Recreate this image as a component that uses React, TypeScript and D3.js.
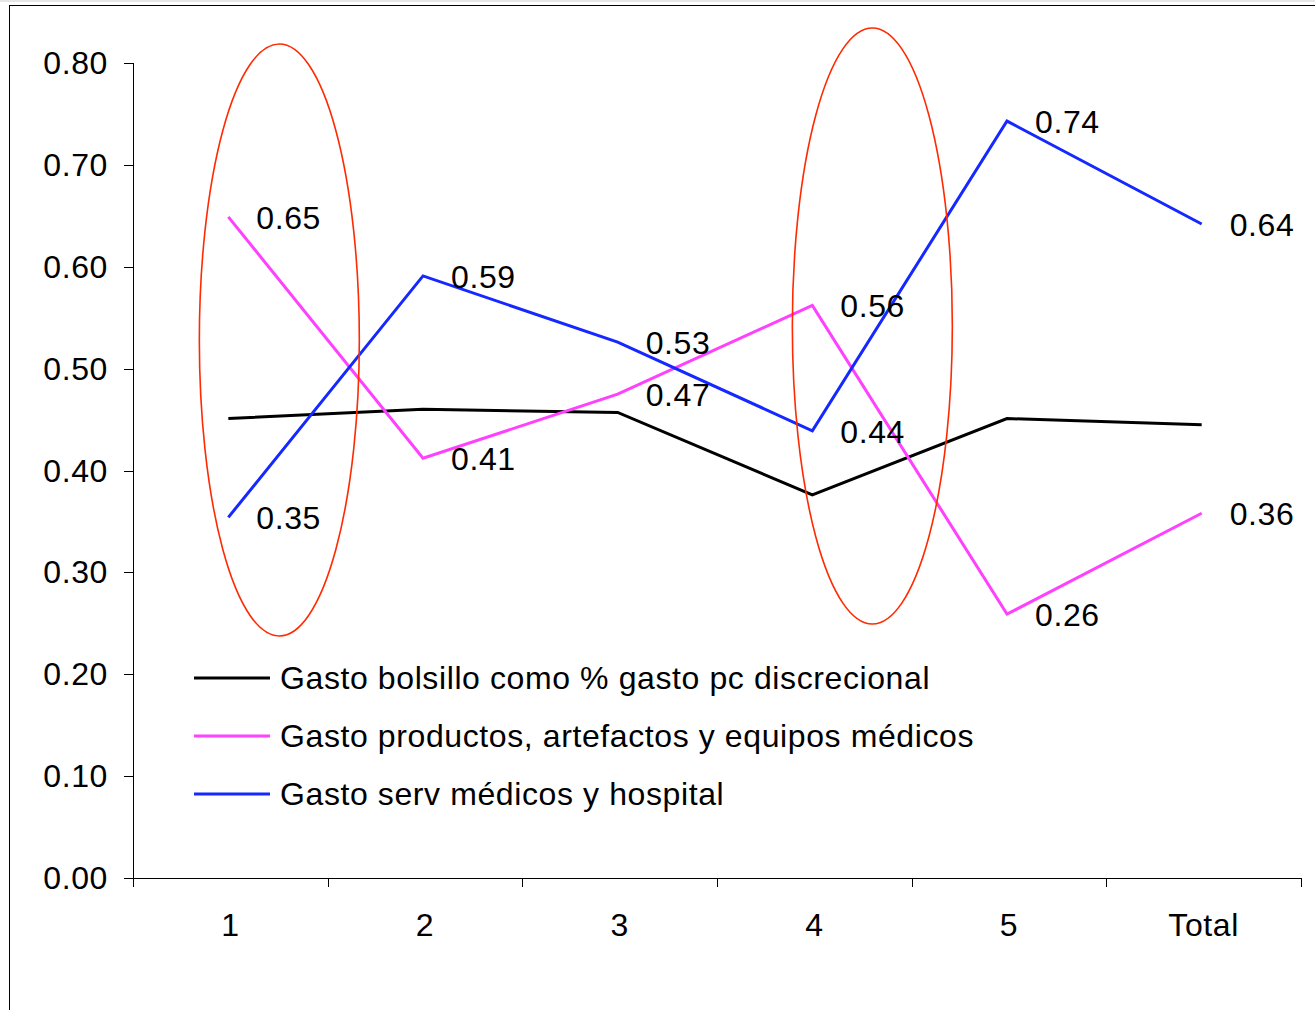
import React from "react";
import * as d3 from "d3";

const categories = ["1", "2", "3", "4", "5", "Total"];
const seriesNames = [
  "Gasto bolsillo como % gasto pc discrecional",
  "Gasto productos, artefactos y equipos médicos",
  "Gasto serv médicos y hospital",
];
const bolsillo = [0.451, 0.46, 0.457, 0.376, 0.451, 0.445];
const productos = [0.649, 0.412, 0.475, 0.562, 0.259, 0.358];
const servicios = [0.354, 0.591, 0.526, 0.439, 0.743, 0.642];
const seriesColors = ["#000000", "#ff40ff", "#1428ff"];
const yTicks = [0, 0.1, 0.2, 0.3, 0.4, 0.5, 0.6, 0.7, 0.8];
const productosLabels = ["0.65", "0.41", "0.47", "0.56", "0.26", "0.36"];
const serviciosLabels = ["0.35", "0.59", "0.53", "0.44", "0.74", "0.64"];
const highlightedCategories = ["1", "4"];

const W = 1315;
const H = 1010;
const FONT = "Liberation Sans, Arial, sans-serif";
const FS = 32;
const LS = 0.6;

export default function App() {
  const x0 = 133, x1 = 1301, yTop = 63, yBot = 878;
  const xBand = d3.scaleBand<string>().domain(categories).range([x0, x1]);
  const x = (c: string) => (xBand(c) as number) + xBand.bandwidth() / 2 - 2;
  const y = d3.scaleLinear().domain([0, 0.8]).range([yBot, yTop]);
  const line = d3
    .line<number>()
    .x((_, i) => x(categories[i]))
    .y((d) => y(d));
  const allSeries = [bolsillo, productos, servicios];
  const boundaries = categories.map((c) => xBand(c) as number).concat([x1]);

  return (
    <svg width={W} height={H} style={{ position: "absolute", left: 0, top: 0 }} fontFamily={FONT} fontSize={FS} letterSpacing={LS}>
      <rect x={0} y={0} width={W} height={H} fill="#fff" />
      <line x1={0} y1={1} x2={W} y2={1} stroke="#ccc" strokeWidth={1} />
      <line x1={9} y1={5.5} x2={W} y2={5.5} stroke="#000" strokeWidth={1} />
      <line x1={9.5} y1={5} x2={9.5} y2={H} stroke="#000" strokeWidth={1} />
      {/* y axis */}
      <line x1={x0 + 0.5} y1={yTop} x2={x0 + 0.5} y2={yBot + 8} stroke="#000" strokeWidth={1} />
      {yTicks.map((t) => (
        <g key={t}>
          <line x1={124} x2={x0} y1={Math.round(y(t)) + 0.5} y2={Math.round(y(t)) + 0.5} stroke="#000" />
          <text x={108} y={y(t)} textAnchor="end" dominantBaseline="central">
            {t.toFixed(2)}
          </text>
        </g>
      ))}
      {/* x axis */}
      <line x1={x0} y1={yBot + 0.5} x2={x1} y2={yBot + 0.5} stroke="#000" />
      {boundaries.map((b, i) => (
        <line key={i} x1={Math.round(b) + 0.5} x2={Math.round(b) + 0.5} y1={yBot} y2={yBot + 9} stroke="#000" />
      ))}
      {categories.map((c) => (
        <text key={c} x={x(c) + 2} y={925} textAnchor="middle" dominantBaseline="central">
          {c}
        </text>
      ))}
      {/* lines */}
      {allSeries.map((s, i) => (
        <path key={i} d={line(s) as string} fill="none" stroke={seriesColors[i]} strokeWidth={3} />
      ))}
      {/* value labels */}
      {productosLabels.map((t, i) => (
        <text key={"p" + i} x={x(categories[i]) + 28} y={y(productos[i]) + 1} dominantBaseline="central">
          {t}
        </text>
      ))}
      {serviciosLabels.map((t, i) => (
        <text key={"s" + i} x={x(categories[i]) + 28} y={y(servicios[i]) + 1} dominantBaseline="central">
          {t}
        </text>
      ))}
      {/* highlight ellipses */}
      {highlightedCategories.map((c, i) => (
        <ellipse
          key={c}
          cx={x(c) + (i === 0 ? 51 : 60)}
          cy={i === 0 ? 340 : 326}
          rx={80}
          ry={i === 0 ? 296 : 298}
          fill="none"
          stroke="#ff2a00"
          strokeWidth={1.6}
        />
      ))}
      {/* legend */}
      {seriesNames.map((n, i) => (
        <g key={n}>
          <line x1={194} x2={270} y1={678 + i * 58} y2={678 + i * 58} stroke={seriesColors[i]} strokeWidth={3} />
          <text x={280} y={678 + i * 58} dominantBaseline="central">
            {n}
          </text>
        </g>
      ))}
    </svg>
  );
}
